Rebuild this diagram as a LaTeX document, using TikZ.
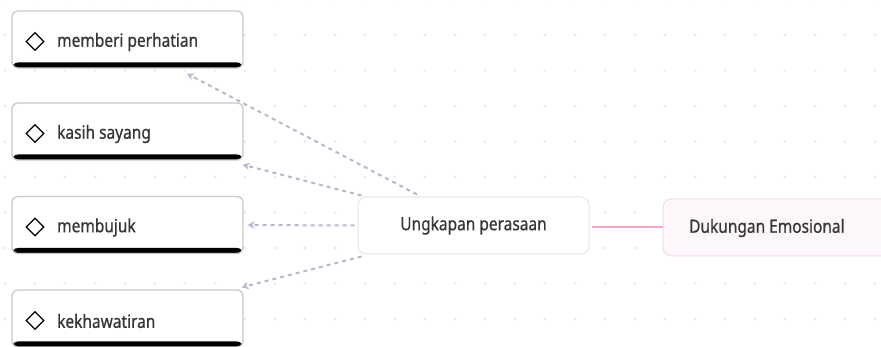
\documentclass[tikz,border=0pt]{standalone}
\usepackage{fontspec}
\setmainfont{Noto Sans}[FakeStretch=0.85,FakeBold=0.7]
\usetikzlibrary{shapes.geometric,arrows.meta}
\definecolor{dotc}{HTML}{DFDFDF}
\definecolor{boxborder}{HTML}{C9C9C9}
\definecolor{cborder}{HTML}{E4E4E4}
\definecolor{txt}{HTML}{363636}
\definecolor{arr}{HTML}{B8B8CA}
\definecolor{pinkline}{HTML}{F2A6CF}
\definecolor{pinkfill}{HTML}{FDF6FA}
\definecolor{pinkborder}{HTML}{F8D8E9}
\tikzset{
  leafbox/.style={draw=boxborder, line width=1.3pt, fill=white, rounded corners=6pt,
    minimum width=231pt, minimum height=57pt, inner sep=0pt,
    path picture={\fill[black] ([yshift=5.5pt]path picture bounding box.south west) rectangle (path picture bounding box.south east);}},
  leaftext/.style={anchor=west, text=txt, font=\fontsize{18.2}{21}\selectfont, inner sep=0pt},
  icon/.style={diamond, draw=black, line width=1.3pt, minimum width=18pt, minimum height=18pt, inner sep=0pt},
  conn/.style={draw=arr, line width=2pt, dash pattern=on 4pt off 4pt, -{Stealth[length=7pt,width=7.5pt]}},
}
\begin{document}
\begin{tikzpicture}[x=1pt,y=-1pt]
\useasboundingbox (0,0) rectangle (881,347);
% dot grid
\foreach \i in {0,...,29} {
  \foreach \j in {0,...,9} {
    \fill[dotc] (5+30*\i, -0.5+35.5*\j) circle (1.1pt);
  }
}
% leaf boxes
\node[leafbox] (b1) at (127.5,39.5) {};
\node[leafbox] (b2) at (127.5,131.5) {};
\node[leafbox] (b3) at (127.5,225) {};
\node[leafbox] (b4) at (127.5,318.5) {};
\node[icon] (d1) at (35,41.5) {};
\node[icon] (d2) at (35,133.5) {};
\node[icon] (d3) at (35,227) {};
\node[icon] (d4) at (35,320.5) {};
\node[leaftext] (t1) at (57,42) {memberi perhatian};
\node[leaftext] (t2) at (57,134) {kasih sayang};
\node[leaftext] (t3) at (57,227.5) {membujuk};
\node[leaftext] (t4) at (57,321) {kekhawatiran};
% center
\node[draw=cborder, line width=1pt, fill=white, rounded corners=8pt, minimum width=231pt, minimum height=57pt,
  text=txt, font=\fontsize{18.2}{21}\selectfont] (c) at (473.5,225.5) {Ungkapan perasaan};
% root
\node[draw=pinkborder, line width=1pt, fill=pinkfill, rounded corners=8pt, minimum width=260pt, minimum height=57pt,
  inner sep=0pt] (r) at (793,227.5) {};
\node[leaftext] (rt) at (689,228) {Dukungan Emosional};
\draw[pinkline, line width=2pt] (c.east) ++(2pt,-1.5pt) coordinate (ps) (ps) -- (r.west |- ps);
% connectors
\draw[conn] ([xshift=-56.5pt,yshift=2pt]c.north) -- ([xshift=59.5pt,yshift=-5pt]b1.south);
\draw[conn] ([xshift=4pt,yshift=1pt]c.north west) -- ([xshift=-1pt,yshift=-4pt]b2.south east);
\draw[conn] ([xshift=-3pt]c.west) -- ([xshift=4pt]b3.east);
\draw[conn] ([xshift=4pt,yshift=-2pt]c.south west) -- ([xshift=-2pt,yshift=2pt]b4.north east);
\end{tikzpicture}
\end{document}
